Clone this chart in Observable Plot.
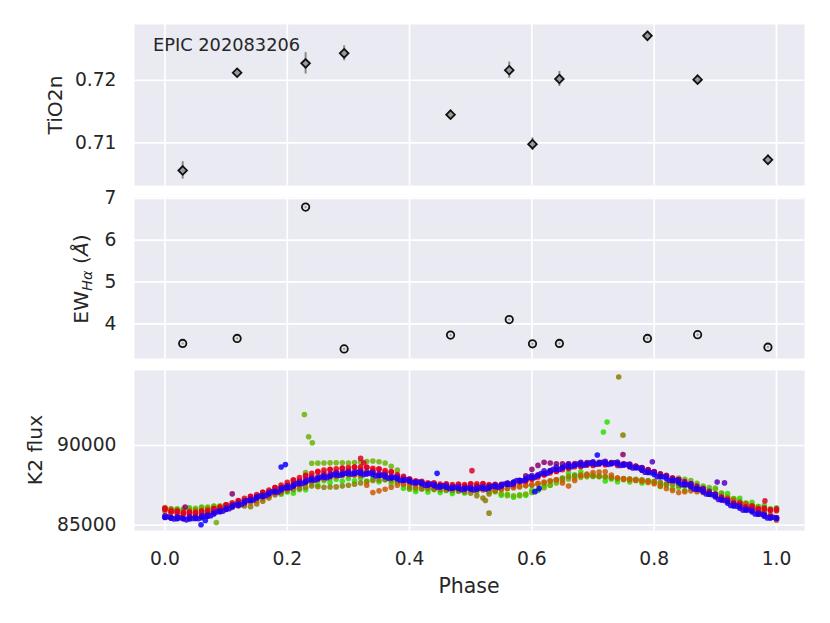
<!DOCTYPE html>
<html><head><meta charset="utf-8">
<script src="https://cdn.jsdelivr.net/npm/d3@7"></script>
<script src="https://cdn.jsdelivr.net/npm/@observablehq/plot@0.6"></script>
<style>
body{margin:0;background:#fff;}
#chart{width:830px;height:623px;}
#chart svg{display:block;}
</style></head><body><div id="chart"></div>
<script>
// ---------- spectroscopic points ----------
const phaseSpec = [0.029,0.118,0.230,0.293,0.467,0.563,0.601,0.645,0.789,0.871,0.986];
const tio2n     = [0.7056,0.7212,0.7227,0.7243,0.7145,0.7216,0.7098,0.7202,0.7271,0.7201,0.7073];
const tio2nErr  = [0.0014,0.0006,0.0017,0.0012,0.0007,0.0013,0.0010,0.0012,0.0007,0.0007,0.0008];
const ewHa      = [3.53,3.65,6.79,3.40,3.73,4.10,3.52,3.53,3.65,3.74,3.44];

// ---------- tick values ----------
const xTicks = [0,0.2,0.4,0.6,0.8,1.0];
const tioTicks = [0.71,0.72];
const ewTicks = [4,5,6,7];
const fluxTicks = [85000,90000];
const starName = "EPIC 202083206";

// ---------- K2 light curve ----------
const phase100 = [0,0.01,0.02,0.03,0.04,0.05,0.06,0.07,0.08,0.09,0.10,0.11,0.12,0.13,0.14,0.15,0.16,0.17,0.18,0.19,
0.20,0.21,0.22,0.23,0.24,0.25,0.26,0.27,0.28,0.29,0.30,0.31,0.32,0.33,0.34,0.35,0.36,0.37,0.38,0.39,
0.40,0.41,0.42,0.43,0.44,0.45,0.46,0.47,0.48,0.49,0.50,0.51,0.52,0.53,0.54,0.55,0.56,0.57,0.58,0.59,
0.60,0.61,0.62,0.63,0.64,0.65,0.66,0.67,0.68,0.69,0.70,0.71,0.72,0.73,0.74,0.75,0.76,0.77,0.78,0.79,
0.80,0.81,0.82,0.83,0.84,0.85,0.86,0.87,0.88,0.89,0.90,0.91,0.92,0.93,0.94,0.95,0.96,0.97,0.98,0.99,1.00];
const phaseHalf = [0.005,0.015,0.025,0.035,0.045,0.055,0.065,0.075,0.085,0.095,0.105,0.115,0.125,0.135,0.145,0.155,0.165,0.175,0.185,0.195,
0.205,0.215,0.225,0.235,0.245,0.255,0.265,0.275,0.285,0.295,0.305,0.315,0.325,0.335,0.345,0.355,0.365,0.375,0.385,0.395,
0.405,0.415,0.425,0.435,0.445,0.455,0.465,0.475,0.485,0.495,0.505,0.515,0.525,0.535,0.545,0.555,0.565,0.575,0.585,0.595,
0.605,0.615,0.625,0.635,0.645,0.655,0.665,0.675,0.685,0.695,0.705,0.715,0.725,0.735,0.745,0.755,0.765,0.775,0.785,0.795,
0.805,0.815,0.825,0.835,0.845,0.855,0.865,0.875,0.885,0.895,0.905,0.915,0.925,0.935,0.945,0.955,0.965,0.975,0.985,0.995];

const fluxLime = [85980,85870,86030,85920,86080,85960,86130,86020,86200,86080,
86280,86190,86430,86360,86630,86600,86880,86820,87080,86940,
87080,87000,87230,87220,87580,87530,87780,87680,87880,87750,
87930,87780,87960,87770,87900,87720,87860,87620,87680,87320,
87280,87110,87260,87080,87230,87040,87180,86990,87130,87020,
87230,87120,87330,87070,87130,86870,86930,86750,86910,86870,
87180,87170,87480,87500,87830,87900,88280,88160,88330,88150,
88120,88080,87770,87900,87720,87870,87700,87830,87640,87740,
87680,87430,87500,87280,87380,87170,87280,87170,87380,87200,
87330,87000,86980,86670,86680,86390,86430,86170,86230,86000,86080];
const fluxYGreen = [86000,85990,85980,86000,86020,86060,86100,86140,86180,86210,
86250,86330,86420,86530,86650,86820,87000,87130,87260,87380,
87500,87600,87700,88300,88880,88890,88900,88910,88920,88910,
88900,88930,88960,88990,89020,88980,88900,88700,88450,87800,
87250,87260,87280,87300,87330,87350,87360,87370,87380,87370,
87350,87320,87300,87200,87100,86970,86850,86840,86850,86950,
87050,87200,87350,87500,87650,87780,87900,87950,88000,88030,
88050,88030,88000,87950,87900,87870,87850,87820,87800,87750,
87700,87620,87550,87750,87950,87880,87800,87620,87450,87350,
87250,87020,86800,86650,86500,86370,86250,86170,86100,86020,85950];
const fluxOlive = [86100,86020,85950,85920,85900,85920,85950,86000,86050,86100,
86150,86200,86250,86200,86150,86320,86500,86700,86900,87020,
87150,87230,87300,87380,87450,87410,87380,87390,87400,87450,
87500,87570,87650,87720,87800,87830,87850,87800,87750,87580,
87400,87350,87300,87280,87250,87220,87200,87180,87150,87080,
87000,86850,86700,86950,87150,87230,87300,87380,87450,87480,
87500,87570,87650,87750,87850,87950,88050,88100,88150,88120,
88100,88070,88050,88000,87950,87920,87900,87880,87850,87800,
87750,87680,87600,87550,87500,87480,87450,87300,87150,87050,
86950,86820,86700,86580,86450,86320,86200,86050,85900,85650,85400];
const fluxOrange = [85900,85820,85750,85720,85700,85710,85720,85780,85850,85920,
86000,86100,86200,86300,86400,86520,86650,86800,86950,87100,
87250,87380,87500,87630,87750,87830,87900,87980,88050,88100,
88150,88130,88100,87500,87050,87150,87250,87380,87500,87550,
87600,87520,87450,87420,87400,87350,87300,87270,87250,87220,
87200,87200,87200,87220,87250,87270,87300,87350,87400,87480,
87550,87620,87700,87780,87850,87650,87450,87800,88100,88200,
88300,88330,88350,88150,87950,87900,87850,87800,87750,87680,
87600,87450,87300,87180,87050,87100,87150,87100,87050,86980,
86900,86780,86650,86520,86400,86300,86200,85950,85700,85500,85300];
const fluxRed = [86000,85900,85820,85790,85780,85800,85840,85920,86020,86150,
86270,86400,86530,86680,86800,86920,87060,87200,87360,87520,
87680,87840,87980,88120,88260,88380,88450,88500,88540,88580,
88620,88650,88660,88620,88570,88500,88420,88320,88180,88000,
87860,87780,87700,87650,87610,87580,87560,87540,87530,87550,
87580,87600,87580,87540,87520,87530,87570,87620,87700,87800,
87900,88020,88160,88280,88380,88480,88580,88660,88720,88760,
88790,88820,88850,88870,88860,88820,88760,88680,88560,88440,
88320,88200,88080,87960,87820,87650,87480,87320,87150,87000,
86830,86660,86500,86360,86240,86150,86080,86020,85980,85960,85900];
const fluxCrimson = [86050,85800,85880,85690,85820,85700,85880,85810,86040,86010,
86280,86260,86540,86530,86810,86780,87060,87050,87350,87350,
87500,87800,87810,88090,88080,88330,88270,88470,88370,88550,
88450,88630,88510,88640,88450,88540,88300,88360,88070,88060,
87900,87680,87750,87560,87660,87490,87600,87440,87570,87440,
87600,87480,87610,87440,87560,87430,87610,87530,87770,87750,
87880,88150,88150,88410,88370,88610,88550,88760,88670,88850,
88740,88900,88770,88910,88750,88850,88650,88710,88460,88490,
88370,88110,88130,87870,87870,87570,87550,87250,87230,86940,
86930,86630,86620,86350,86370,86130,86190,85980,86070,85910,86020];
const fluxPurple = [85500,85460,85420,85430,85450,85500,85550,85660,85780,85940,
86100,86240,86380,86520,86650,86780,86900,87020,87150,87300,
87450,87590,87720,87840,87950,88040,88130,88210,88280,88320,
88350,88370,88380,88340,88300,88230,88150,88060,87980,87890,
87800,87720,87650,87590,87530,87490,87450,87420,87400,87390,
87380,87400,87420,87460,87500,87560,87620,87710,87800,88100,
88500,88750,88950,88900,88850,88850,88850,88870,88900,88930,
88950,88950,88950,88930,88900,88850,88800,88700,88600,88480,
88350,88220,88080,87960,87850,87730,87600,87450,87300,87130,
86950,86750,86550,86380,86200,86050,85900,85780,85650,85550,85450];
const fluxViolet = [85600,85450,85540,85400,85540,85440,85580,85570,85810,85840,
85990,86240,86240,86510,86540,86780,86790,87060,87090,87340,
87460,87460,87710,87710,87940,87910,88110,88070,88260,88180,
88340,88230,88360,88220,88310,88120,88160,87960,88010,87810,
87860,87650,87680,87500,87560,87400,87480,87320,87410,87270,
87380,87280,87420,87340,87510,87450,87640,87600,87810,87840,
88110,88140,88410,88420,88660,88630,88840,88770,88940,88840,
88980,88880,89010,88870,88960,88780,88840,88610,88610,88340,
88310,88060,88060,87830,87840,87610,87610,87320,87260,86970,
86910,86590,86510,86240,86210,85950,85940,85680,85660,85450,85480];
const fluxBlue = [85480,85450,85420,85400,85380,85420,85470,85560,85700,85850,
86010,86140,86280,86400,86560,86700,86830,86960,87090,87200,
87340,87470,87600,87720,87830,87920,87990,88080,88140,88190,
88230,88250,88240,88220,88160,88110,88040,87970,87900,87820,
87740,87680,87600,87540,87480,87430,87380,87330,87300,87280,
87260,87270,87300,87350,87410,87480,87560,87680,87780,87900,
88000,88110,88250,88380,88500,88600,88700,88760,88800,88840,
88870,88880,88880,88870,88850,88780,88700,88600,88450,88300,
88170,88040,87920,87800,87670,87540,87410,87250,87090,86940,
86760,86580,86380,86200,86060,85950,85830,85700,85560,85460,85400];
const fluxBlue2 = [85520,85380,85460,85330,85420,85400,85560,85590,85830,85880,
86030,86260,86290,86540,86580,86820,86840,87090,87080,87330,
87350,87590,87610,87830,87820,88020,87980,88170,88110,88260,
88190,88310,88170,88250,88080,88140,87950,87990,87800,87840,
87660,87700,87510,87570,87390,87460,87300,87370,87230,87330,
87200,87340,87260,87440,87380,87580,87560,87800,87780,88010,
88000,88240,88250,88500,88490,88710,88670,88840,88760,88910,
88810,88940,88810,88920,88750,88800,88590,88580,88320,88290,
88040,88040,87800,87790,87540,87530,87270,87230,86950,86910,
86610,86540,86230,86190,85940,85950,85700,85690,85450,85490];

// scattered points
const outPhase = [0.228,0.235,0.241,0.084,0.742,0.749,0.530,0.524,0.717,0.723,0.059,0.066,0.190,0.197,0.707,0.445,0.797,0.903,0.915,0.320,0.325,0.502,0.981,0.749,0.033,0.110,0.605,0.612];
const outFlux  = [91950,90550,90170,85165,94300,90650,85750,86540,90850,91470,85020,85290,88650,88800,89400,88250,88980,87700,87650,89190,88920,88420,86520,89430,86130,86960,87100,87300];
const outSeries= ["ygreen","ygreen","ygreen","ygreen","olive","olive","olive","olive","lime","lime","blue","blue","blue","blue","blue","blue","violet","violet","violet","crimson","crimson","crimson","crimson","purple","purple","purple","blue","blue"];

const seriesColor = {lime:"#2be000", ygreen:"#6cb300", olive:"#8a7f00", orange:"#cc5a00", red:"#f00000",
  crimson:"#e0002a", purple:"#8c006e", violet:"#5a00c0", blue:"#0a00ff", blue2:"#2a00e6"};

// ---------- build tables ----------
const spec = phaseSpec.map((p,i)=>({phase:p, t:tio2n[i], e:tio2nErr[i], ew:ewHa[i]}));
const lc = [];
const addSeries = (ph, vals, key) => vals.forEach((v,i)=>lc.push({phase:ph[i], flux:v, color:seriesColor[key]}));
const addOut = keys => outPhase.forEach((p,i)=>{ if(keys.includes(outSeries[i])) lc.push({phase:p, flux:outFlux[i], color:seriesColor[outSeries[i]]}); });
addSeries(phase100, fluxLime, "lime");
addSeries(phase100, fluxYGreen, "ygreen");
addSeries(phase100, fluxOlive, "olive");
addSeries(phase100, fluxOrange, "orange");
addOut(["ygreen","olive","lime"]);
addSeries(phase100, fluxRed, "red");
addSeries(phase100, fluxCrimson, "crimson");
addOut(["crimson"]);
addSeries(phase100, fluxPurple, "purple");
addSeries(phase100, fluxViolet, "violet");
addSeries(phase100, fluxBlue, "blue");
addSeries(phaseHalf, fluxBlue2, "blue2");
addOut(["blue","violet","purple"]);

// ---------- panels ----------
const W=830, ML=134, MR=26, FS=18.7, TXT="#262626";
const xDomain=[-0.0498,1.0458];
const FONT="DejaVu Sans, sans-serif";
function panel(h, mt, mb, yDomain, yTicks, yFmt, marks, withX){
  return Plot.plot({
    width:W, height:h, marginLeft:ML, marginRight:MR, marginTop:mt, marginBottom:mb,
    style:{fontFamily:FONT, fontSize:FS+"px", color:TXT, background:"transparent", overflow:"visible"},
    x:{domain:xDomain, ...(withX?{}:{axis:null})},
    y:{domain:yDomain},
    color:{type:"identity"},
    marks:[
      Plot.frame({fill:"#EAEAF2", stroke:"none"}),
      Plot.gridX(xTicks,{stroke:"white", strokeOpacity:1, strokeWidth:1.7}),
      Plot.gridY(yTicks,{stroke:"white", strokeOpacity:1, strokeWidth:1.7}),
      Plot.axisY(yTicks,{tickSize:0, tickPadding:18, tickFormat:yFmt, fontSize:FS, label:null, fill:TXT}),
      ...(withX?[Plot.axisX(xTicks,{tickSize:0, tickPadding:21, tickFormat:d3.format(".1f"), fontSize:FS, label:null, fill:TXT})]:[]),
      ...marks
    ]
  });
}

const p1 = panel(185, 24, 0, [0.7032,0.7289], tioTicks, d3.format(".2f"), [
  Plot.ruleX(spec,{x:"phase", y1:d=>d.t-d.e, y2:d=>d.t+d.e, stroke:"#8a8a8a", strokeWidth:2}),
  Plot.dot(spec,{x:"phase", y:"t", symbol:"diamond2", r:3.9, fill:"#9a9a9a", stroke:"#111", strokeWidth:1.8})
], false);
const p2 = panel(173, 12, 0, [3.17,7.02], ewTicks, d3.format("d"), [
  Plot.dot(spec,{x:"phase", y:"ew", r:3.7, fill:"#e4e4e4", stroke:"#111", strokeWidth:1.8}),
  Plot.dot(spec,{x:"phase", y:"ew", r:1.1, fill:"#9a9a9a"})
], false);
const p3 = panel(265, 12, 93, [84660,94710], fluxTicks, d3.format("d"), [
  Plot.dot(lc,{x:"phase", y:"flux", fill:"color", r:2.8, fillOpacity:0.85})
], true);

const root = document.getElementById("chart");
[p1,p2,p3].forEach(p=>root.appendChild(p));

function ylabel(svg, x, y, build){
  const t = d3.select(svg).append("text")
    .attr("transform",`translate(${x},${y}) rotate(-90)`)
    .attr("text-anchor","middle").attr("fill",TXT)
    .style("font-family",FONT).style("font-size","20.3px");
  build(t);
}
ylabel(p1, 62, 105, t=>t.text("TiO2n"));
ylabel(p2, 88, 94, t=>{
  t.append("tspan").text("EW");
  t.append("tspan").attr("font-style","italic").attr("font-size","14.5px").attr("dy","4").text("Hα");
  t.append("tspan").attr("dy","-4").text(" (");
  t.append("tspan").attr("font-style","italic").text("Å");
  t.append("tspan").text(")");
});
ylabel(p3, 42, 92, t=>t.text("K2 flux"));

d3.select(p1).append("text").attr("x",153).attr("y",51).attr("fill",TXT).attr("text-anchor","start")
  .style("font-family",FONT).style("font-size","17.8px").text(starName);
d3.select(p3).append("text").attr("x",469).attr("y",235).attr("text-anchor","middle").attr("fill",TXT)
  .style("font-family",FONT).style("font-size","20.5px").text("Phase");
</script></body></html>
